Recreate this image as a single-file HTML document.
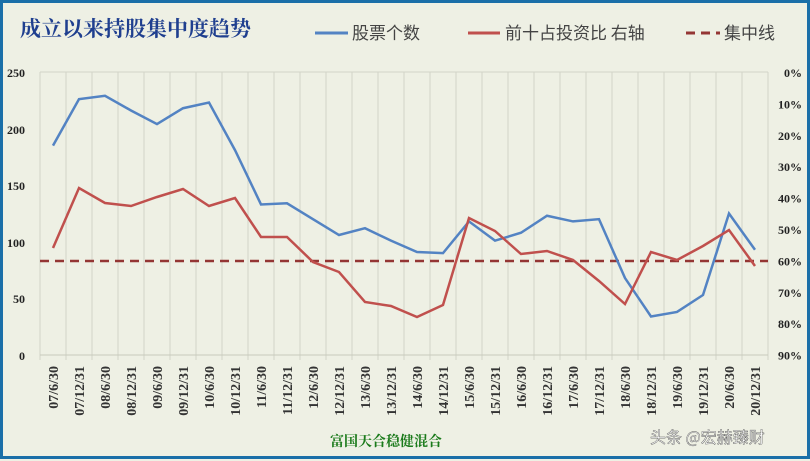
<!DOCTYPE html>
<html><head><meta charset="utf-8"><style>
body{margin:0;background:#eef0e4;}
svg{display:block}
</style></head><body>
<svg width="810" height="461" xmlns="http://www.w3.org/2000/svg" font-family="'Liberation Serif','Noto Serif CJK SC',serif">
<rect x="0" y="0" width="810" height="461" fill="#eef0e4"/>
<rect x="1.5" y="1.5" width="807" height="456" fill="none" stroke="#1a6fa8" stroke-width="3"/>
<text x="20" y="36" font-size="21" font-weight="bold" fill="#1f3f8f" font-family="'Noto Serif CJK SC',serif">成立以来持股集中度趋势</text>
<g font-family="'Noto Sans CJK SC',sans-serif" font-size="17" fill="#444">
<line x1="315" y1="33" x2="348" y2="33" stroke="#5383c3" stroke-width="3"/>
<text x="352" y="39">股票个数</text>
<line x1="468" y1="33" x2="500" y2="33" stroke="#c0504d" stroke-width="3"/>
<text x="505" y="39">前十占投资比 右轴</text>
<line x1="686" y1="33" x2="720" y2="33" stroke="#943634" stroke-width="3" stroke-dasharray="9,6"/>
<text x="724" y="39">集中线</text>
</g>
<g stroke="#d2d4c8" stroke-width="1" id="grid"></g>
<line x1="40" y1="72" x2="768" y2="72" stroke="#d2d4c8"/>
<line x1="40" y1="355" x2="768" y2="355" stroke="#c8cabc"/>
<g font-size="12" font-weight="bold" fill="#222" text-anchor="end">
<text x="25" y="77">250</text><text x="25" y="134">200</text><text x="25" y="190">150</text><text x="25" y="247">100</text><text x="25" y="303">50</text><text x="25" y="360">0</text>
</g>
<g font-size="12" font-weight="bold" fill="#222" text-anchor="start" id="ry"></g>
<g id="xl" font-size="14" font-weight="bold" fill="#333"></g>
<line x1="40" y1="261" x2="768" y2="261" stroke="#943634" stroke-width="2.5" stroke-dasharray="9,6"/>
<polyline id="blue" fill="none" stroke="#5383c3" stroke-width="2.5"/>
<polyline id="red" fill="none" stroke="#c0504d" stroke-width="2.5"/>
<text x="330" y="446" font-size="14" font-weight="bold" fill="#1a7a1a" font-family="'Noto Serif CJK SC',serif">富国天合稳健混合</text>
<text x="650" y="443" font-size="16" fill="#fff" stroke="#555" stroke-width="0.4" font-family="'Noto Sans CJK SC',sans-serif">头条 @宏赫臻财</text>
<script>
var ns="http://www.w3.org/2000/svg";
var g=document.getElementById('grid');
for(var i=0;i<=28;i++){var l=document.createElementNS(ns,'line');var x=40+i*26;l.setAttribute('x1',x);l.setAttribute('x2',x);l.setAttribute('y1',72);l.setAttribute('y2',360);g.appendChild(l);}
var ry=document.getElementById('ry');
for(var i=0;i<=9;i++){var t=document.createElementNS(ns,'text');t.setAttribute('x',i==0?784:778);t.setAttribute('y',77+i*31.4);t.textContent=(i*10)+'%';ry.appendChild(t);}
var labs=[];for(var y=7;y<=20;y++){var s=(y<10?'0':'')+y;labs.push(s+'/6/30');labs.push(s+'/12/31');}
var xl=document.getElementById('xl');
labs.forEach(function(s,i){var x=40+13+i*26;var t=document.createElementNS(ns,'text');t.setAttribute('transform','translate('+(x+5)+',366) rotate(-90)');t.setAttribute('text-anchor','end');t.textContent=s;xl.appendChild(t);});
var b=[185,226,229,216,204,218,223,181,133,134,120,106,112,101,91,90,118,101,108,123,118,120,68,34,38,53,125,93];
var r=[248,188,203,206,197,189,206,198,237,237,262,272,302,306,317,305,218,231,254,251,260,281,304,252,260,246,230,266];
document.getElementById('blue').setAttribute('points',b.map(function(v,i){return (53+i*26)+','+(355-v*1.132)}).join(' '));
document.getElementById('red').setAttribute('points',r.map(function(v,i){return (53+i*26)+','+v}).join(' '));
</script>
</svg>
</body></html>
